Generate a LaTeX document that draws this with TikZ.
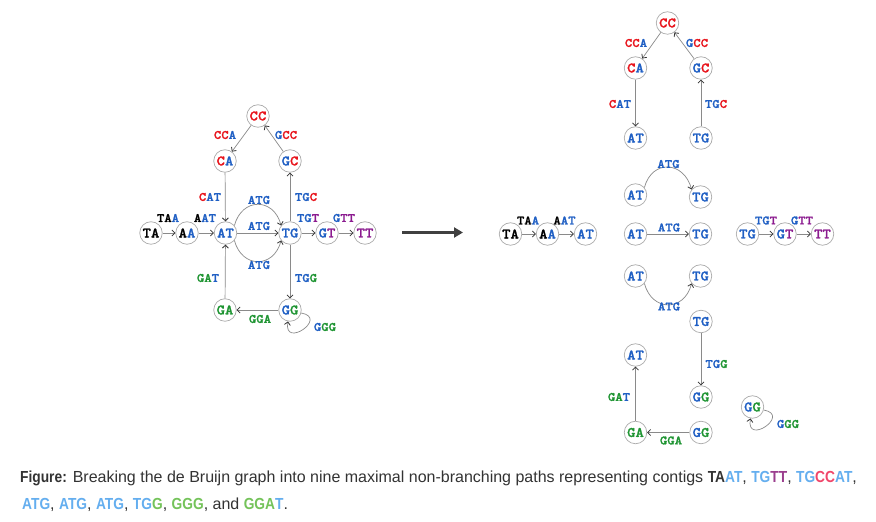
\documentclass[tikz,border=0pt]{standalone}
\usepackage{fontspec}
\setmainfont{Liberation Sans}[BoldFeatures={FakeStretch=0.86}]
\newfontfamily\monofam[Extension=.otf,FakeStretch=1.1,FakeBold=1.3]{lmmonolt10-bold}
\usetikzlibrary{arrows.meta}
\definecolor{cr}{HTML}{E8141C}
\definecolor{cb}{HTML}{1F5FC4}
\definecolor{cg}{HTML}{1E9432}
\definecolor{cp}{HTML}{8B1A8F}
\definecolor{lb}{HTML}{64AEEF}
\definecolor{lp}{HTML}{9B3E8E}
\definecolor{lr}{HTML}{F0466A}
\definecolor{lg}{HTML}{74C35A}
\definecolor{txt}{HTML}{333333}
\definecolor{edgec}{HTML}{8A8A8A}
\newcommand\cRd[1]{\textcolor{cr}{#1}}
\newcommand\cBl[1]{\textcolor{cb}{#1}}
\newcommand\cGr[1]{\textcolor{cg}{#1}}
\newcommand\cPu[1]{\textcolor{cp}{#1}}
\tikzset{
  kn/.style={circle, draw=gray!65, fill=white, line width=0.7pt, minimum size=22.5pt,
    inner sep=0pt, font=\monofam\fontsize{14.5}{14.5}\selectfont},
  lbl/.style={font=\monofam\fontsize{12.8}{12.8}\selectfont, inner sep=0pt},
  ed/.style={draw=edgec, line width=0.7pt,
    -{Straight Barb[length=3pt,width=6pt,line width=0.8pt,color=black!80]}},
  bigarrow/.style={draw=black!75, line width=3.2pt,
    -{Triangle[length=9pt,width=10pt]}},
  captxt/.style={anchor=west, inner sep=0pt, text=txt, font=\fontsize{16}{16}\selectfont},
}
\begin{document}
\begin{tikzpicture}[x=1pt,y=1pt]
\useasboundingbox (0,0) rectangle (876,522);
\fill[white] (0,0) rectangle (876,522);

% ---------------- left graph ----------------
\node[kn] (lCC) at (258,406) {\cRd{CC}};
\node[kn] (lCA) at (225,361) {\cRd{C}\cBl{A}};
\node[kn] (lGC) at (290,361) {\cBl{G}\cRd{C}};
\node[kn] (lTA) at (151,289) {TA};
\node[kn] (lAA) at (187,289) {A\cBl{A}};
\node[kn] (lAT) at (225.5,289) {\cBl{AT}};
\node[kn] (lTG) at (290,289) {\cBl{TG}};
\node[kn] (lGT) at (327,289) {\cBl{G}\cPu{T}};
\node[kn] (lTT) at (365,289) {\cPu{TT}};
\node[kn] (lGA) at (225,212) {\cGr{GA}};
\node[kn] (lGG) at (290,212) {\cBl{G}\cGr{G}};

\draw[ed] (lCC) -- (lCA);
\draw[ed] (lGC) -- (lCC);
\draw[ed] (lCA) -- (lAT);
\draw[ed] (lTG) -- (lGC);
\draw[ed] (lTA) -- (lAA);
\draw[ed] (lAA) -- (lAT);
\draw[ed] (lAT) -- (lTG);
\draw[ed] (lAT.40) to[out=75,in=105,looseness=1.6] (lTG.140);
\draw[ed] (lAT.-40) to[out=-75,in=-105,looseness=1.6] (lTG.-140);
\draw[ed] (lTG) -- (lGT);
\draw[ed] (lGT) -- (lTT);
\draw[ed] (lGA) -- (lAT);
\draw[ed] (lTG) -- (lGG);
\draw[ed] (lGG) -- (lGA);
\draw[ed] (lGG.-15) .. controls +(-10:28) and +(-100:28) .. (lGG.-100);

\node[lbl] (lbCCA) at (225,387) {\cRd{CC}\cBl{A}};
\node[lbl] (lbGCC) at (286,387) {\cBl{G}\cRd{CC}};
\node[lbl] (lbCAT) at (210,325) {\cRd{C}\cBl{AT}};
\node[lbl] (lbTGC) at (306,325) {\cBl{TG}\cRd{C}};
\node[lbl] (lbTAA) at (168,304) {TA\cBl{A}};
\node[lbl] (lbAAT) at (205,304) {A\cBl{AT}};
\node[lbl] (lbATG1) at (259,322) {\cBl{ATG}};
\node[lbl] (lbATG2) at (259,296) {\cBl{ATG}};
\node[lbl] (lbATG3) at (259,257) {\cBl{ATG}};
\node[lbl] (lbTGT) at (308,304) {\cBl{TG}\cPu{T}};
\node[lbl] (lbGTT) at (344,304) {\cBl{G}\cPu{TT}};
\node[lbl] (lbGAT) at (208,244) {\cGr{GA}\cBl{T}};
\node[lbl] (lbTGG) at (306,244) {\cBl{TG}\cGr{G}};
\node[lbl] (lbGGA) at (260,203) {\cGr{GGA}};
\node[lbl] (lbGGG) at (325,195) {\cBl{G}\cGr{GG}};

% ---------------- big arrow ----------------
\coordinate (aS) at (402,289.5);
\coordinate (aE) at (463,289.5);
\draw[bigarrow] (aS) -- (aE);

% ---------------- right graph ----------------
% cycle piece
\node[kn] (rCC) at (667.5,499) {\cRd{CC}};
\node[kn] (rCA) at (635.5,454) {\cRd{C}\cBl{A}};
\node[kn] (rGC) at (701,454) {\cBl{G}\cRd{C}};
\node[kn] (rAT1) at (635.5,384) {\cBl{AT}};
\node[kn] (rTG1) at (701,384) {\cBl{TG}};
\draw[ed] (rCC) -- (rCA);
\draw[ed] (rGC) -- (rCC);
\draw[ed] (rCA) -- (rAT1);
\draw[ed] (rTG1) -- (rGC);
\node[lbl] (rbCCA) at (636,479) {\cRd{CC}\cBl{A}};
\node[lbl] (rbGCC) at (697,479) {\cBl{G}\cRd{CC}};
\node[lbl] (rbCAT) at (620,418) {\cRd{C}\cBl{AT}};
\node[lbl] (rbTGC) at (716,418) {\cBl{TG}\cRd{C}};

% top arc
\node[kn] (rAT2) at (635.5,327) {\cBl{AT}};
\node[kn] (rTG2) at (700.5,325) {\cBl{TG}};
\draw[ed] (rAT2.40) to[out=75,in=105,looseness=1.6] (rTG2.140);
\node[lbl] (rbATG2) at (668.5,358) {\cBl{ATG}};

% TA AA AT
\node[kn] (rTA) at (510.5,288) {TA};
\node[kn] (rAA) at (547.5,288) {A\cBl{A}};
\node[kn] (rAT3) at (585.5,288) {\cBl{AT}};
\draw[ed] (rTA) -- (rAA);
\draw[ed] (rAA) -- (rAT3);
\node[lbl] (rbTAA) at (528,301.5) {TA\cBl{A}};
\node[lbl] (rbAAT) at (564.5,301.5) {A\cBl{AT}};

% straight ATG
\node[kn] (rAT4) at (635.5,288) {\cBl{AT}};
\node[kn] (rTG4) at (700.5,288) {\cBl{TG}};
\draw[ed] (rAT4) -- (rTG4);
\node[lbl] (rbATG4) at (669,294.5) {\cBl{ATG}};

% TG GT TT
\node[kn] (rTG5) at (747.5,288) {\cBl{TG}};
\node[kn] (rGT5) at (785,288) {\cBl{G}\cPu{T}};
\node[kn] (rTT5) at (822.5,288) {\cPu{TT}};
\draw[ed] (rTG5) -- (rGT5);
\draw[ed] (rGT5) -- (rTT5);
\node[lbl] (rbTGT) at (766,301.5) {\cBl{TG}\cPu{T}};
\node[lbl] (rbGTT) at (802,301.5) {\cBl{G}\cPu{TT}};

% bottom arc
\node[kn] (rAT6) at (635.5,246) {\cBl{AT}};
\node[kn] (rTG6) at (700.5,246) {\cBl{TG}};
\draw[ed] (rAT6.-40) to[out=-75,in=-105,looseness=1.6] (rTG6.-140);
\node[lbl] (rbATG6) at (669,215.5) {\cBl{ATG}};

% TG -> GG
\node[kn] (rTG7) at (701,200.5) {\cBl{TG}};
\node[kn] (rGG7) at (701,125) {\cBl{G}\cGr{G}};
\draw[ed] (rTG7) -- (rGG7);
\node[lbl] (rbTGG) at (716.5,158) {\cBl{TG}\cGr{G}};

% GG -> GA -> AT
\node[kn] (rAT8) at (635.5,167) {\cBl{AT}};
\node[kn] (rGA8) at (635.5,89.5) {\cGr{GA}};
\node[kn] (rGG8) at (701,89.5) {\cBl{G}\cGr{G}};
\draw[ed] (rGG8) -- (rGA8);
\draw[ed] (rGA8) -- (rAT8);
\node[lbl] (rbGAT) at (619,125) {\cGr{GA}\cBl{T}};
\node[lbl] (rbGGA) at (671,81.5) {\cGr{GGA}};

% GG loop
\node[kn] (rGG9) at (752.5,115) {\cBl{G}\cGr{G}};
\draw[ed] (rGG9.-15) .. controls +(-10:28) and +(-100:28) .. (rGG9.-100);
\node[lbl] (rbGGG) at (788,98) {\cBl{G}\cGr{GG}};

% ---------------- caption ----------------
\node[captxt] (cap1) at (20,44) {\textbf{Figure:} Breaking the de Bruijn graph into nine maximal non-branching paths representing contigs \textbf{TA\textcolor{lb}{AT}}, \textbf{\textcolor{lb}{TG}\textcolor{lp}{TT}}, \textbf{\textcolor{lb}{TG}\textcolor{lr}{CC}\textcolor{lb}{AT}},};
\node[captxt] (cap2) at (22,17) {\textbf{\textcolor{lb}{ATG}}, \textbf{\textcolor{lb}{ATG}}, \textbf{\textcolor{lb}{ATG}}, \textbf{\textcolor{lb}{TG}\textcolor{lg}{G}}, \textbf{\textcolor{lg}{GGG}}, and \textbf{\textcolor{lg}{GGA}\textcolor{lb}{T}}.};
\end{tikzpicture}
\end{document}
